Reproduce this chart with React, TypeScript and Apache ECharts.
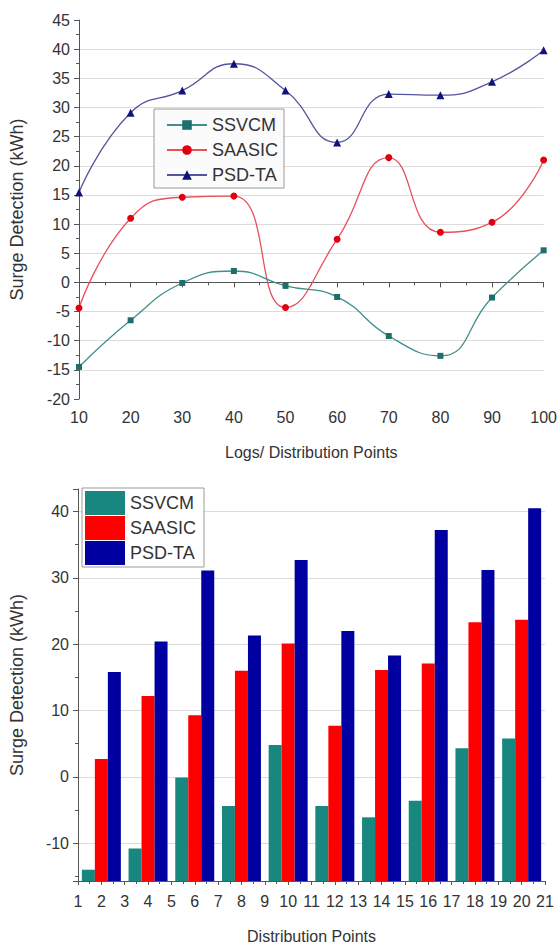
import React, { useEffect, useRef } from "react";
import * as echarts from "echarts";

// ---- Top chart data (line) ----
const logPoints = [10, 20, 30, 40, 50, 60, 70, 80, 90, 100];
const ssvcmLine = [-14.5, -6.5, -0.1, 1.95, -0.6, -2.5, -9.2, -12.6, -2.6, 5.5];
const saasicLine = [-4.4, 11.0, 14.6, 14.8, -4.3, 7.4, 21.4, 8.6, 10.3, 21.0];
const psdtaLine = [15.4, 29.1, 32.9, 37.5, 32.9, 24.0, 32.3, 32.1, 34.4, 39.8];

// ---- Bottom chart data (bar) ----
const distPoints = [2, 4, 6, 8, 10, 12, 14, 16, 18, 20];
const ssvcmBar = [-14.0, -10.8, -0.1, -4.4, 4.8, -4.4, -6.1, -3.6, 4.3, 5.8];
const saasicBar = [2.7, 12.2, 9.3, 16.0, 20.1, 7.7, 16.1, 17.1, 23.3, 23.7];
const psdtaBar = [15.8, 20.4, 31.1, 21.3, 32.7, 22.0, 18.3, 37.2, 31.2, 40.5];

const seriesNames = ["SSVCM", "SAASIC", "PSD-TA"];

const FONT = "'Liberation Sans', Arial, sans-serif";
const TXT = "#333";
const AXIS = "#555";
const GRIDC = "#dcdcdc";
const BAR_Y_MIN = -15.7;
const BAR_Y_MAX = 43.4;

function pairs(xs: number[], ys: number[]) {
  return xs.map((x, i) => [x, ys[i]]);
}

function lineOption(): any {
  const lineColors = ["#3f8f8c", "#e8505a", "#55559e"];
  const markColors = ["#1f6e6e", "#e00010", "#12127e"];
  const symbols = ["rect", "circle", "triangle"];
  const sizes = [6, 7, 8];
  const data = [ssvcmLine, saasicLine, psdtaLine];
  return {
    animation: false,
    textStyle: { fontFamily: FONT },
    grid: { left: 75, right: 16, top: 20, height: 379 },
    legend: {
      orient: "vertical",
      left: 154,
      top: 109,
      data: seriesNames,
      itemWidth: 40,
      itemHeight: 12,
      itemGap: 7,
      padding: [7, 6, 4, 12],
      backgroundColor: "#fbfbfb",
      borderColor: "#9a9a9a",
      borderWidth: 1,
      textStyle: { fontSize: 18, color: TXT, fontFamily: FONT },
    },
    xAxis: {
      type: "value",
      min: 10,
      max: 100,
      interval: 10,
      name: "Logs/ Distribution Points",
      nameLocation: "middle",
      nameGap: 45,
      nameTextStyle: { fontSize: 16, color: TXT, fontFamily: FONT },
      axisLine: { show: true, lineStyle: { color: AXIS } },
      axisTick: { show: true, length: 5, lineStyle: { color: AXIS } },
      minorTick: { show: true, splitNumber: 2, length: 3, lineStyle: { color: AXIS } },
      axisLabel: { fontSize: 16, color: TXT, margin: 10, fontFamily: FONT },
      splitLine: { show: false },
    },
    yAxis: {
      type: "value",
      min: -20,
      max: 45,
      interval: 5,
      name: "Surge Detection (kWh)",
      nameLocation: "middle",
      nameGap: 53,
      nameTextStyle: { fontSize: 18, color: TXT, fontFamily: FONT },
      axisLine: { show: true, lineStyle: { color: AXIS } },
      axisTick: { show: true, length: 5, lineStyle: { color: AXIS } },
      minorTick: { show: true, splitNumber: 2, length: 3, lineStyle: { color: AXIS } },
      axisLabel: { fontSize: 16, color: TXT, margin: 9, fontFamily: FONT },
      splitLine: {
        show: true,
        showMinLine: false,
        showMaxLine: false,
        lineStyle: { color: GRIDC, width: 1 },
      },
    },
    series: seriesNames.map((name, i) => ({
      name,
      type: "line",
      smooth: 0.5,
      data: pairs(logPoints, data[i]),
      symbol: symbols[i],
      symbolSize: sizes[i],
      lineStyle: { color: lineColors[i], width: 1.3 },
      itemStyle: { color: markColors[i] },
      z: 3 - i,
    })),
  };
}

function barOption(): any {
  const colors = ["#17877f", "#ff0000", "#0000a0"];
  const data = [ssvcmBar, saasicBar, psdtaBar];
  return {
    animation: false,
    textStyle: { fontFamily: FONT },
    grid: { left: 73, right: 15, top: 19, height: 398 },
    legend: {
      orient: "vertical",
      left: 82,
      top: 18,
      data: seriesNames,
      icon: "rect",
      itemWidth: 40,
      itemHeight: 24,
      itemGap: 1,
      padding: [3, 8, 2, 3],
      backgroundColor: "#fff",
      borderColor: "#9a9a9a",
      borderWidth: 1,
      textStyle: { fontSize: 18, color: TXT, fontFamily: FONT },
    },
    xAxis: {
      type: "value",
      min: 1,
      max: 21,
      interval: 1,
      name: "Distribution Points",
      nameLocation: "middle",
      nameGap: 47,
      nameTextStyle: { fontSize: 16, color: TXT, fontFamily: FONT },
      axisLine: { show: true, onZero: false, lineStyle: { color: AXIS } },
      axisTick: { show: true, length: 4, lineStyle: { color: AXIS } },
      minorTick: { show: true, splitNumber: 2, length: 3, lineStyle: { color: AXIS } },
      axisLabel: { fontSize: 16, color: TXT, margin: 12, fontFamily: FONT },
      splitLine: { show: false },
    },
    yAxis: {
      type: "value",
      min: BAR_Y_MIN,
      max: BAR_Y_MAX,
      startValue: BAR_Y_MIN,
      splitNumber: 6,
      name: "Surge Detection (kWh)",
      nameLocation: "middle",
      nameGap: 52,
      nameTextStyle: { fontSize: 18, color: TXT, fontFamily: FONT },
      axisLine: { show: true, lineStyle: { color: AXIS } },
      axisTick: { show: true, length: 5, lineStyle: { color: AXIS } },
      minorTick: { show: true, splitNumber: 2, length: 3, lineStyle: { color: AXIS } },
      axisLabel: {
        fontSize: 16,
        color: TXT,
        margin: 9,
        fontFamily: FONT,
        showMinLabel: false,
        showMaxLabel: false,
      },
      splitLine: {
        show: true,
        showMinLine: false,
        showMaxLine: false,
        lineStyle: { color: GRIDC, width: 1 },
      },
    },
    series: seriesNames.map((name, i) => ({
      name,
      type: "bar",
      data: pairs(distPoints, data[i]),
      barWidth: 13,
      barGap: "0%",
      itemStyle: { color: colors[i] },
    })),
  };
}

function Chart({ top, height, option }: { top: number; height: number; option: any }) {
  const ref = useRef<HTMLDivElement>(null);
  useEffect(() => {
    if (!ref.current) return;
    const chart = echarts.init(ref.current, undefined, { renderer: "svg" });
    chart.setOption(option);
    return () => chart.dispose();
  }, []);
  return (
    <div
      ref={ref}
      style={{ position: "absolute", left: 0, top, width: 560, height }}
    />
  );
}

export default function App() {
  return (
    <div
      style={{
        position: "absolute",
        left: 0,
        top: 0,
        width: 560,
        height: 949,
        background: "#fff",
        overflow: "hidden",
      }}
    >
      <Chart top={0} height={470} option={lineOption()} />
      <Chart top={470} height={479} option={barOption()} />
    </div>
  );
}
